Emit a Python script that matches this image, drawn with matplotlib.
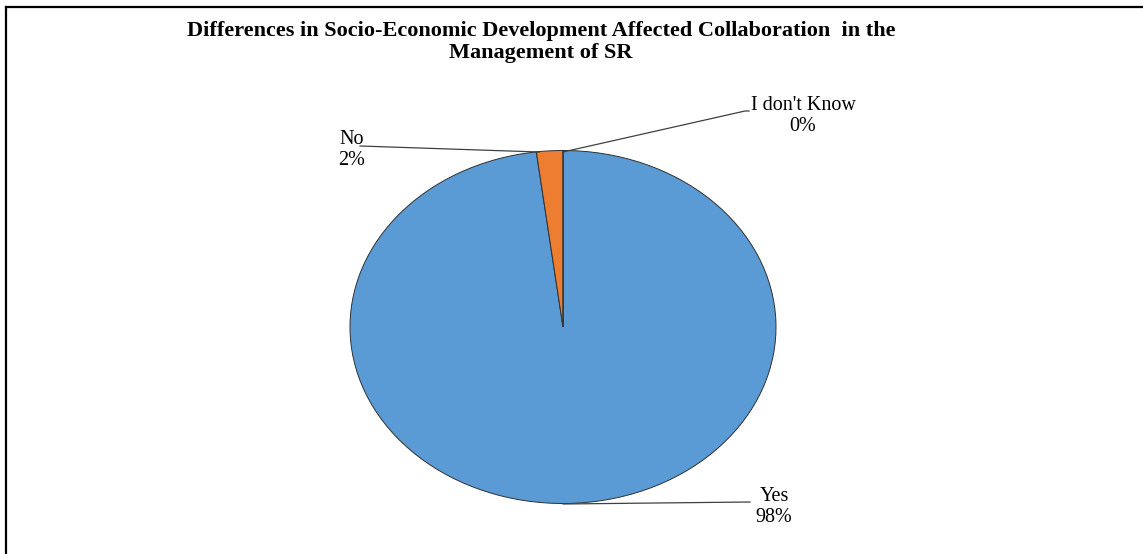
import matplotlib
matplotlib.use("Agg")
import matplotlib.pyplot as plt
import numpy as np
from matplotlib.lines import Line2D

# survey answers
labels = ["Yes", "No", "I don't Know"]
shares = [98, 2, 0]
colors = ["#5B9BD5", "#ED7D31", "#A5A5A5"]

plt.rcParams["font.family"] = ["Liberation Serif", "DejaVu Serif"]

W, H = 1143, 554
fig = plt.figure(figsize=(W / 100, H / 100), dpi=100)

# pie lives in a stretched (non-square) axes, like the original Excel chart
cx, cy, rx, ry = 563, 327, 213, 176.5
ax = fig.add_axes([(cx - rx) / W, (H - cy - ry) / H, 2 * rx / W, 2 * ry / H])
wedges, _ = ax.pie(shares, colors=colors, startangle=90, counterclock=False,
                   radius=1, wedgeprops=dict(edgecolor="#303030", linewidth=0.7))
ax.set_xlim(-1, 1)
ax.set_ylim(-1, 1)
ax.set_aspect("auto")
ax.axis("off")


def px(x, y):
    # pixel position -> data coords of the pie axes
    return (x - cx) / rx, (cy - y) / ry


# leader lines + labels
leaders = [
    [(563, 504), (750, 502)],
    [(539, 152), (360, 146)],
    [(563, 152), (745, 111), (749, 111)],
]
text_pos = [(774, 507), (352, 150), (803, 116)]
for lab, val, pts, tp in zip(labels, shares, leaders, text_pos):
    xs, ys = zip(*[px(*p) for p in pts])
    ax.plot(xs, ys, color="#404040", lw=0.9, clip_on=False)
    tx, ty = px(*tp)
    ax.text(tx, ty, f"{lab}\n{val}%", ha="center", va="center",
            fontsize=14.5, linespacing=1.12, clip_on=False)

fig.text(541 / W, 1 - 42 / H,
         "Differences in Socio-Economic Development Affected Collaboration  in the\nManagement of SR",
         ha="center", va="center", fontsize=16, fontweight="bold", linespacing=1.12)

# frame on the top and left edges
fig.add_artist(Line2D([6 / W, 1], [1 - 7 / H] * 2, color="black", lw=1.6,
                      transform=fig.transFigure))
fig.add_artist(Line2D([6 / W] * 2, [0, 1 - 7 / H], color="black", lw=1.6,
                      transform=fig.transFigure))

fig.savefig("out.png", dpi=100)
